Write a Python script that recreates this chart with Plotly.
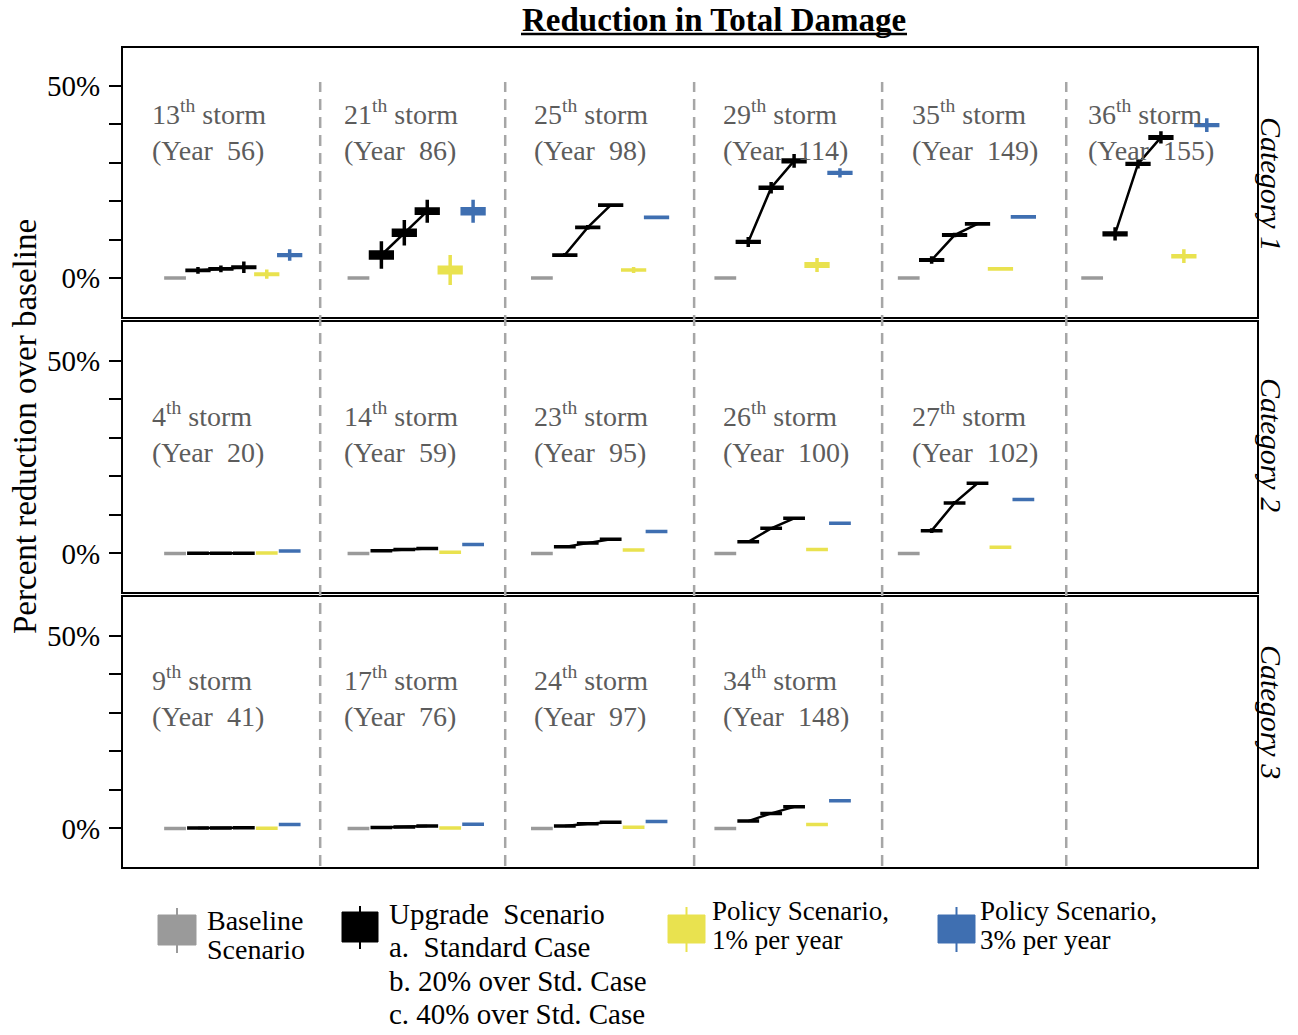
import plotly.graph_objects as go

W, H = 1298, 1035
FONT = "Liberation Serif"

# ---------------- data ----------------
# order inside every column: baseline, upgrade a, upgrade b, upgrade c, policy 1%, policy 3%
scenario_colors = ["#9a9a9a", "#000000", "#000000", "#000000", "#E9E24F", "#3F6FB1"]

cat1_storms = ["13", "21", "25", "29", "35", "36"]
cat1_years = [56, 86, 98, 114, 149, 155]
cat1_median = [
    [0, 2.0, 2.4, 2.8, 1.0, 6.0],
    [0, 6.0, 11.8, 17.4, 2.1, 17.4],
    [0, 6.0, 13.2, 19.0, 2.1, 15.8],
    [0, 9.4, 23.5, 30.5, 3.4, 27.4],
    [0, 4.7, 11.2, 14.1, 2.4, 15.9],
    [0, 11.5, 29.7, 36.6, 5.7, 39.8],
]
cat1_iqr_half = [
    [0, 0.05, 0.05, 0.05, 0.05, 0.1],
    [0, 0.8, 0.65, 0.55, 0.7, 0.65],
    [0, 0.03, 0.03, 0.03, 0.03, 0.03],
    [0, 0.1, 0.13, 0.2, 0.35, 0.1],
    [0, 0.05, 0.05, 0.05, 0.03, 0.03],
    [0, 0.2, 0.1, 0.2, 0.13, 0.1],
]
cat1_whisker_half = [
    [0, 0.9, 0.9, 1.5, 1.2, 1.5],
    [0, 3.6, 3.3, 3.0, 3.9, 3.0],
    [0, 0.5, 0.6, 0.5, 0.8, 0.5],
    [0, 1.3, 1.5, 1.8, 1.8, 1.2],
    [0, 1.0, 0.6, 0.5, 0.5, 0.4],
    [0, 1.7, 1.2, 1.6, 1.8, 1.8],
]

cat2_storms = ["4", "14", "23", "26", "27"]
cat2_years = [20, 59, 95, 100, 102]
cat2_median = [
    [0, 0.05, 0.05, 0.05, 0.1, 0.6],
    [0, 0.7, 1.0, 1.3, 0.3, 2.3],
    [0, 1.7, 2.7, 3.7, 0.9, 5.7],
    [0, 3.0, 6.5, 9.1, 1.0, 7.8],
    [0, 5.9, 13.1, 18.2, 1.6, 14.0],
]
cat2_whisker_half = [
    [0, 0.2, 0.2, 0.2, 0.2, 0.2],
    [0, 0.2, 0.2, 0.2, 0.2, 0.2],
    [0, 0.3, 0.3, 0.3, 0.2, 0.2],
    [0, 0.4, 0.4, 0.4, 0.2, 0.2],
    [0, 0.6, 0.5, 0.3, 0.4, 0.4],
]

cat3_storms = ["9", "17", "24", "34"]
cat3_years = [41, 76, 97, 148]
cat3_median = [
    [0, 0.1, 0.1, 0.15, 0.05, 1.0],
    [0, 0.25, 0.4, 0.6, 0.1, 1.1],
    [0, 0.6, 1.2, 1.6, 0.3, 1.8],
    [0, 1.9, 3.9, 5.6, 1.0, 7.2],
]
cat3_whisker_half = [
    [0, 0.2, 0.2, 0.2, 0.2, 0.2],
    [0, 0.2, 0.2, 0.2, 0.2, 0.2],
    [0, 0.2, 0.2, 0.2, 0.2, 0.2],
    [0, 0.3, 0.3, 0.3, 0.2, 0.2],
]

category_labels = ["Category 1", "Category 2", "Category 3"]
y_major_ticks = [0, 50]
y_major_labels = ["0%", "50%"]
y_minor_ticks = [10, 20, 30, 40]

# ---------------- layout constants ----------------
COL_STEP = 8          # x-units between storm columns
X_RANGE = [-2.27, 47.19]
Y_RANGE = [-10, 60]
row_px = [(47.5, 316.5), (322, 592), (597, 867)]
divider_x = [6.33, 14.4, 22.64, 30.84, 38.87]
label_x = [-1.09, 7.28, 15.57, 23.82, 32.06, 39.74]
label_y_px = [131, 432, 696]
cat_label_y_px = [184, 445, 712]


def py(p):
    return 1 - p / H


def px(p):
    return p / W


rows = [
    dict(storms=cat1_storms, years=cat1_years, med=cat1_median,
         iqr=cat1_iqr_half, wh=cat1_whisker_half),
    dict(storms=cat2_storms, years=cat2_years, med=cat2_median,
         iqr=[[0] * 6 for _ in cat2_median], wh=cat2_whisker_half),
    dict(storms=cat3_storms, years=cat3_years, med=cat3_median,
         iqr=[[0] * 6 for _ in cat3_median], wh=cat3_whisker_half),
]

fig = go.Figure()
annotations = []
shapes = []
layout_axes = {}

for r, row in enumerate(rows):
    xa = "x" if r == 0 else f"x{r + 1}"
    ya = "y" if r == 0 else f"y{r + 1}"
    xkey = "xaxis" if r == 0 else f"xaxis{r + 1}"
    ykey = "yaxis" if r == 0 else f"yaxis{r + 1}"
    top, bot = row_px[r]
    layout_axes[xkey] = dict(
        domain=[px(123), px(1257)], range=X_RANGE, anchor=ya,
        showticklabels=False, ticks="", showgrid=False, zeroline=False,
        showline=True, mirror=True, linewidth=2.2, linecolor="black",
        fixedrange=True,
    )
    layout_axes[ykey] = dict(
        domain=[py(bot), py(top)], range=Y_RANGE, anchor=xa,
        tickvals=y_major_ticks, ticktext=y_major_labels,
        ticks="outside", ticklen=12, tickwidth=1.5, tickcolor="black",
        ticklabelstandoff=3,
        minor=dict(tickvals=y_minor_ticks, ticks="outside", ticklen=12,
                   tickwidth=1.5, tickcolor="black", showgrid=False),
        tickfont=dict(family=FONT, size=29, color="black"),
        showgrid=False, zeroline=False, showline=True, mirror=True,
        linewidth=2.2, linecolor="black", fixedrange=True,
    )
    n = len(row["med"])
    for k in range(6):
        xs = [COL_STEP * c + k for c in range(n)]
        med = [row["med"][c][k] for c in range(n)]
        q1 = [row["med"][c][k] - row["iqr"][c][k] for c in range(n)]
        q3 = [row["med"][c][k] + row["iqr"][c][k] for c in range(n)]
        lo = [row["med"][c][k] - row["wh"][c][k] for c in range(n)]
        hi = [row["med"][c][k] + row["wh"][c][k] for c in range(n)]
        col = scenario_colors[k]
        fig.add_trace(go.Box(
            x=xs, median=med, q1=q1, q3=q3, lowerfence=lo, upperfence=hi,
            fillcolor=col, line=dict(color=col, width=3.5), whiskerwidth=0,
            width=0.95, boxpoints=False, showlegend=False, hoverinfo="skip",
            xaxis=xa, yaxis=ya,
        ))
    # connecting line for upgrade scenarios
    lx, ly = [], []
    for c in range(n):
        for k in (1, 2, 3):
            lx.append(COL_STEP * c + k)
            ly.append(row["med"][c][k])
        lx.append(None)
        ly.append(None)
    fig.add_trace(go.Scatter(x=lx, y=ly, mode="lines",
                             line=dict(color="black", width=2.5),
                             showlegend=False, hoverinfo="skip",
                             xaxis=xa, yaxis=ya))
    # storm labels
    for c in range(n):
        annotations.append(dict(
            text=f"{row['storms'][c]}<sup>th</sup> storm<br>(Year\u00a0 {row['years'][c]})",
            xref=xa, yref="paper", x=label_x[c], y=py(label_y_px[r]),
            xanchor="left", yanchor="middle", align="left", showarrow=False,
            font=dict(family=FONT, size=28, color="#5c5c5c"),
        ))
    # category label
    annotations.append(dict(
        text=f"<i>{category_labels[r]}</i>", xref="paper", yref="paper",
        x=px(1272), y=py(cat_label_y_px[r]), xanchor="center", yanchor="middle",
        textangle=90, showarrow=False,
        font=dict(family=FONT, size=30, color="black"),
    ))

# dashed dividers
for dx in divider_x:
    shapes.append(dict(type="line", xref="x3", yref="paper", x0=dx, x1=dx,
                       y0=py(866), y1=py(82),
                       line=dict(color="#a6a6a6", width=2.5, dash="11px,7px")))

# title
annotations.append(dict(
    text="<b>Reduction in Total Damage</b>", xref="paper", yref="paper",
    x=px(714), y=py(20), xanchor="center", yanchor="middle", showarrow=False,
    font=dict(family=FONT, size=33, color="black"),
))
shapes.append(dict(type="line", xref="paper", yref="paper", x0=px(521), x1=px(907),
                   y0=py(34), y1=py(34), line=dict(color="black", width=2.5)))

# y axis title
annotations.append(dict(
    text="Percent reduction over baseline", xref="paper", yref="paper",
    x=px(25), y=py(427), xanchor="center", yanchor="middle", textangle=-90,
    showarrow=False, font=dict(family=FONT, size=33, color="black"),
))

# ---------------- legend (drawn) ----------------
legend_items = [
    dict(color=scenario_colors[0], box=(158, 196, 915, 945), wy=(908, 953),
         tx=205, size=28, lines=[("Baseline", 920), ("Scenario", 949)]),
    dict(color=scenario_colors[1], box=(342, 378, 912, 942), wy=(906, 949),
         tx=387, size=29, lines=[("Upgrade\u00a0 Scenario", 914), ("a.\u00a0 Standard Case", 947),
                                  ("b. 20% over Std. Case", 981), ("c. 40% over Std. Case", 1014)]),
    dict(color=scenario_colors[4], box=(668, 705, 915, 943), wy=(907, 952),
         tx=710, size=27, lines=[("Policy Scenario,", 911), ("1% per year", 940)]),
    dict(color=scenario_colors[5], box=(938, 975, 915, 943), wy=(907, 952),
         tx=978, size=27, lines=[("Policy Scenario,", 911), ("3% per year", 940)]),
]
for it in legend_items:
    x0, x1, y0, y1 = it["box"]
    xc = (x0 + x1) / 2
    shapes.append(dict(type="line", xref="paper", yref="paper", x0=px(xc), x1=px(xc),
                       y0=py(it["wy"][0]), y1=py(it["wy"][1]),
                       line=dict(color=it["color"], width=2)))
    shapes.append(dict(type="rect", xref="paper", yref="paper", x0=px(x0), x1=px(x1),
                       y0=py(y1), y1=py(y0), fillcolor=it["color"],
                       line=dict(color=it["color"], width=1)))
    for txt, yy in it["lines"]:
        annotations.append(dict(
            text=txt, xref="paper", yref="paper", x=px(it["tx"]), y=py(yy),
            xanchor="left", yanchor="middle", showarrow=False,
            font=dict(family=FONT, size=it["size"], color="black"),
        ))

fig.update_layout(
    width=W, height=H, margin=dict(l=0, r=0, t=0, b=0),
    paper_bgcolor="white", plot_bgcolor="white",
    boxmode="overlay", showlegend=False,
    annotations=annotations, shapes=shapes,
    font=dict(family=FONT),
    **layout_axes,
)

fig.write_html("out.html", config={"displayModeBar": False},
               post_script="document.body.style.margin='0';document.body.style.overflow='hidden';")
